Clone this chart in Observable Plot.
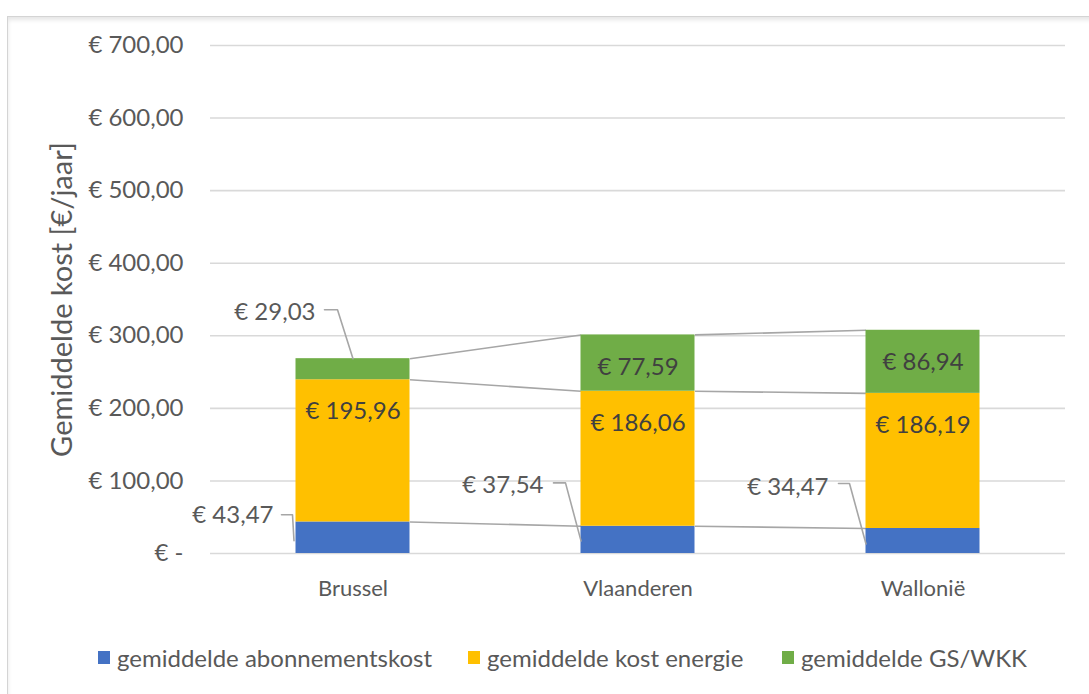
<!DOCTYPE html>
<html>
<head>
<meta charset="utf-8">
<script src="https://cdn.jsdelivr.net/npm/d3@7"></script>
<script src="https://cdn.jsdelivr.net/npm/@observablehq/plot@0.6"></script>
<style>
  html, body { margin: 0; padding: 0; background: #fff; }
  body { width: 1089px; height: 694px; overflow: hidden; position: relative;
         font-family: "Lato", "Roboto", sans-serif; }
  #frame { position: absolute; left: 7px; top: 16px; width: 1100px; height: 700px;
           border: 1px solid #d4d4d4; box-shadow: inset 0 3px 4px rgba(0,0,0,0.10); }
  #chart { position: absolute; left: 0; top: 0; }
  #legend { position: absolute; left: 0; top: 640px; width: 1089px; height: 34px;
            font-size: 24px; color: #595959; }
  .item { position: absolute; top: 0; display: flex; align-items: center; height: 34px; white-space: nowrap; }
  .sw { width: 12px; height: 13px; margin-right: 7px; }
</style>
</head>
<body>
<div id="frame"></div>
<div id="chart"></div>
<div id="legend"></div>
<script>
// ---- data ----
const categories = ["Brussel", "Vlaanderen", "Wallonië"];
const series = ["gemiddelde abonnementskost", "gemiddelde kost energie", "gemiddelde GS/WKK"];
const abonnement = [43.47, 37.54, 34.47];
const energie = [195.96, 186.06, 186.19];
const gswkk = [29.03, 77.59, 86.94];
const yTicks = [0, 100, 200, 300, 400, 500, 600, 700];
const colors = ["#4472C4", "#FFC000", "#70AD47"];

// ---- layout ----
const W = 1089, H = 625;
const mL = 210, mR = 24, mT = 45, yZero = 553;
const barHalf = 0.2;
const pxPerX = (W - mL - mR) / 3;
const pxPerY = (yZero - mT) / 700;
const fmt = v => "€ " + v.toFixed(2).replace(".", ",");
const tickFmt = d => d === 0 ? "€ -" : fmt(d);
const FONT = '"Lato", "Roboto", sans-serif';

const valuesBySeries = [abonnement, energie, gswkk];
const rows = [];
categories.forEach((c, i) => {
  let acc = 0;
  series.forEach((s, k) => {
    const v = valuesBySeries[k][i];
    rows.push({i, cat: c, series: s, k, value: v, y1: acc, y2: acc + v});
    acc += v;
  });
});
const rowOf = (i, k) => rows.find(r => r.i === i && r.k === k);

// series lines between bars
const links = [];
for (let i = 0; i < categories.length - 1; i++) {
  series.forEach((s, k) => {
    links.push({x1: i + barHalf, x2: i + 1 - barHalf, y1: rowOf(i, k).y2, y2: rowOf(i + 1, k).y2});
  });
}

// labels placed outside with leader lines (pixel offsets relative to anchor)
const outside = [
  {i: 0, k: 2, anchor: "top",  label: [-37.5, -46], leader: [[-28.5, -49], [-15.5, -49], [0, 0]]},
  {i: 0, k: 0, anchor: "left", label: [-22.5, -22], leader: [[-14.5, -23], [-3.5, -23], [-2, 3]]},
  {i: 1, k: 0, anchor: "left", label: [-37.5, -55], leader: [[-27.5, -57], [-15.5, -57], [0, 1]]},
  {i: 2, k: 0, anchor: "left", label: [-37.5, -53.5], leader: [[-27.5, -57.5], [-16.5, -57.5], [0, 3]]}
];
const outLabels = [], leaderPts = [];
outside.forEach((o, n) => {
  const r = rowOf(o.i, o.k);
  const ax = o.anchor === "top" ? o.i : o.i - barHalf;
  const ay = o.anchor === "top" ? r.y2 : (r.y1 + r.y2) / 2;
  const toX = dx => ax + dx / pxPerX, toY = dy => ay - dy / pxPerY;
  outLabels.push({x: toX(o.label[0]), y: toY(o.label[1]), text: fmt(r.value)});
  o.leader.forEach(p => leaderPts.push({id: n, x: toX(p[0]), y: toY(p[1])}));
});
const inside = rows.filter(r => !outside.some(o => o.i === r.i && o.k === r.k));

const plot = Plot.plot({
  width: W, height: H,
  marginLeft: mL, marginRight: mR, marginTop: mT, marginBottom: H - yZero,
  x: {domain: [-0.5, 2.5], axis: null},
  y: {domain: [0, 700], axis: null},
  color: {domain: series, range: colors},
  style: {fontFamily: FONT, color: "#595959", background: "transparent", overflow: "visible"},
  marks: [
    Plot.gridY(yTicks, {stroke: "#d9d9d9", strokeOpacity: 1, strokeWidth: 1.6}),
    Plot.axisY({ticks: yTicks, tickSize: 0, tickPadding: 27, tickFormat: tickFmt, fontSize: 24, label: null}),
    Plot.axisX({ticks: [0, 1, 2], tickSize: 0, tickPadding: 27, tickFormat: i => categories[i], fontSize: 22, label: null}),
    Plot.text(["Gemiddelde kost [€/jaar]"], {frameAnchor: "left", textAnchor: "middle", dx: -148, rotate: -90, fontSize: 29, fill: "#595959"}),
    Plot.link(links, {x1: "x1", x2: "x2", y1: "y1", y2: "y2", stroke: "#a6a6a6", strokeWidth: 1.6}),
    Plot.rectY(rows, {x1: d => d.i - barHalf, x2: d => d.i + barHalf, y1: "y1", y2: "y2", fill: "series"}),
    Plot.text(inside, {x: "i", y: "y2", dy: 32, text: d => fmt(d.value), fill: "#404040", fontSize: 24}),
    Plot.line(leaderPts, {x: "x", y: "y", z: "id", stroke: "#a6a6a6", strokeWidth: 1.6}),
    Plot.text(outLabels, {x: "x", y: "y", text: "text", textAnchor: "end", fill: "#595959", fontSize: 24})
  ]
});
document.getElementById("chart").appendChild(plot);

const legend = document.getElementById("legend");
const legendLeft = [98, 468, 782];
series.forEach((s, k) => {
  const it = document.createElement("div");
  it.className = "item";
  it.style.left = legendLeft[k] + "px";
  it.innerHTML = `<span class="sw" style="background:${colors[k]}"></span><span>${s}</span>`;
  legend.appendChild(it);
});
</script>
</body>
</html>
